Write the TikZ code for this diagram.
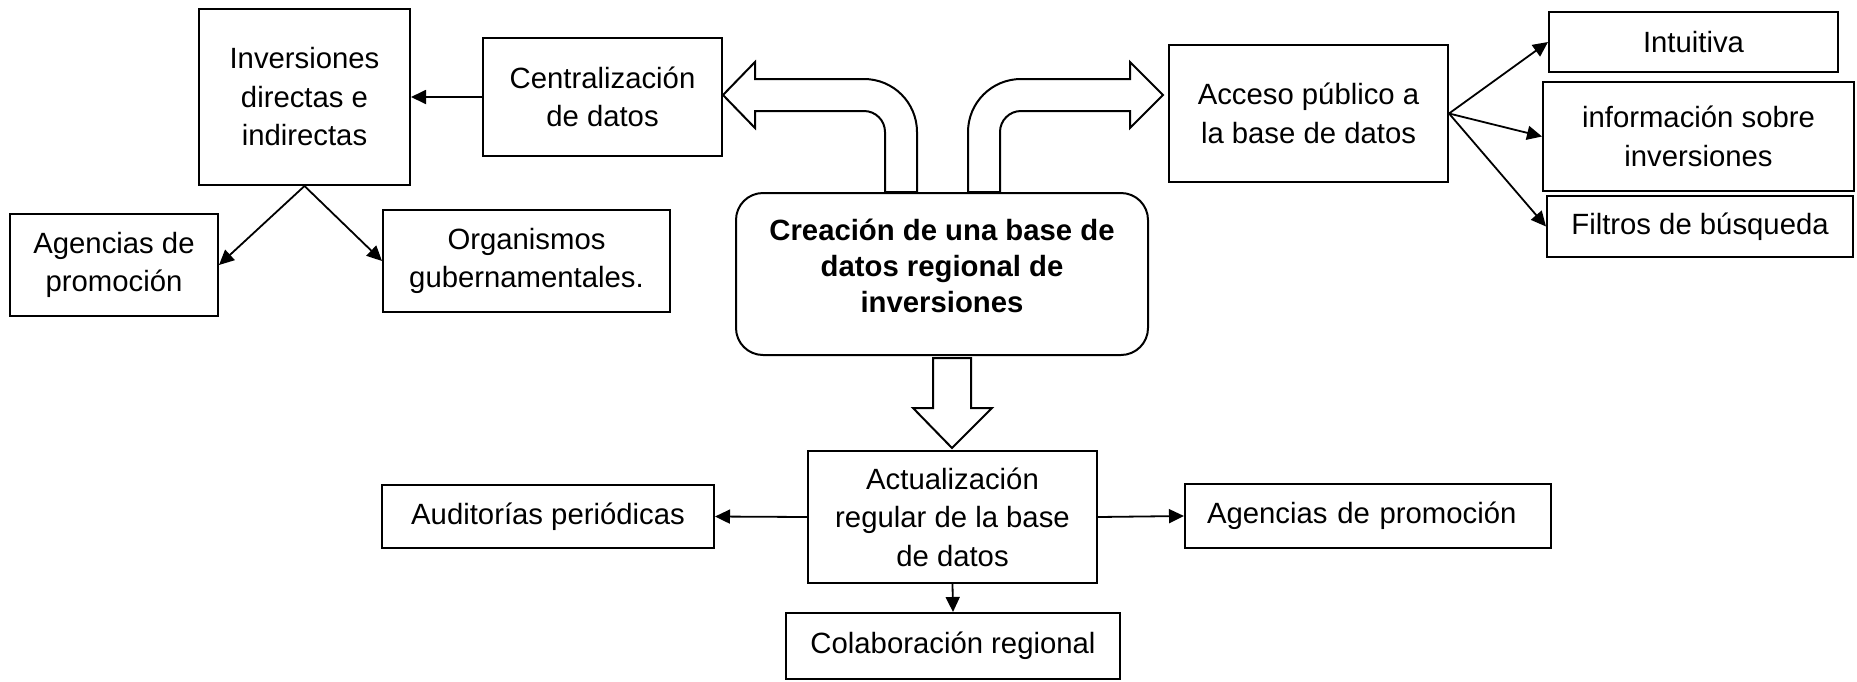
\documentclass[tikz,border=0pt]{standalone}
\usepackage{fontspec}
\setmainfont{Liberation Sans}
\usetikzlibrary{arrows.meta}
\begin{document}
\begin{tikzpicture}[x=0.5pt,y=-0.5pt,
  box/.style={draw,line width=1pt,align=center,inner sep=0pt,font=\fontsize{14.65}{19.25}\selectfont},
  conn/.style={line width=0.9pt,-{Triangle[length=7.5pt,width=7pt]}},
  hollow/.style={draw,line width=1pt,fill=white,line join=miter}]
\useasboundingbox (0,0) rectangle (1857,681);

% hollow arrows
\draw[hollow] (885,192) -- (885,132) .. controls (885,120.4) and (875.6,111) .. (864,111)
  -- (755,111) -- (755,128) -- (723,95) -- (755,62) -- (755,79) -- (864,79)
  .. controls (893.3,79) and (917,102.7) .. (917,132) -- (917,192) -- cycle;
\draw[hollow] (1000,192) -- (1000,132) .. controls (1000,120.4) and (1009.4,111) .. (1021,111)
  -- (1130,111) -- (1130,128) -- (1163,95) -- (1130,62) -- (1130,79) -- (1021,79)
  .. controls (991.7,79) and (968,102.7) .. (968,132) -- (968,192) -- cycle;
\draw[hollow] (933,358) -- (933,408) -- (913,408) -- (952,448) -- (992,408) -- (971,408) -- (971,358) -- cycle;

% central box
\node[draw,line width=1pt,rounded corners=13.5pt,minimum width=206pt,minimum height=81pt,inner sep=0pt] (main) at (942,274) {};
\node[font=\bfseries\fontsize{14.65}{18}\selectfont,align=center,inner sep=0pt] (maintxt) at ([yshift=4pt]main.center) {Creación de una base de\\datos regional de\\inversiones};

% left side
\node[box,minimum width=105.5pt,minimum height=88pt] (inv) at (304.5,97) {Inversiones\\directas e\\indirectas};
\node[box,minimum width=119.5pt,minimum height=59pt] (cen) at (602.5,97) {Centralización\\de datos};
\node[box,minimum width=104pt,minimum height=51pt] (agL) at (114,265) {Agencias de\\promoción};
\node[box,minimum width=143.5pt,minimum height=51pt] (org) at (526.5,261) {Organismos\\gubernamentales.};

% right side
\node[box,minimum width=139.5pt,minimum height=68.5pt] (acc) at (1308.5,113.5) {Acceso público a\\la base de datos};
\node[box,minimum width=144.5pt,minimum height=30pt] (int) at (1693.5,42) {Intuitiva};
\node[box,minimum width=155.5pt,minimum height=54.5pt] (info) at (1698.5,136.5) {información sobre\\inversiones};
\node[box,minimum width=153pt,minimum height=30.5pt] (fil) at (1700,226.5) {Filtros de búsqueda};

% bottom
\node[box,minimum width=144.5pt,minimum height=66pt] (act) at (952.5,517) {Actualización\\regular de la base\\de datos};
\node[box,minimum width=166pt,minimum height=31.5pt] (aud) at (548,516.5) {Auditorías periódicas};
\node[box,minimum height=32pt,text width=161pt,align=left,inner xsep=11pt] (agR) at (1368,516) {Agencias de promoción};
\node[box,minimum width=167pt,minimum height=33pt] (col) at (953,646) {Colaboración regional};

% connectors
\draw[conn] (cen.west) -- (inv.east);
\draw[conn] (inv.south) -- (agL.east);
\draw[conn] (inv.south) -- (org.west);
\draw[conn] (acc.east) -- (int.west);
\draw[conn] (acc.east) -- (info.west);
\draw[conn] (acc.east) -- (fil.west);
\draw[conn] (act.west) -- (aud.east);
\draw[conn] (act.east) -- (agR.west);
\draw[conn] (act.south) -- (col.north);
\end{tikzpicture}
\end{document}
